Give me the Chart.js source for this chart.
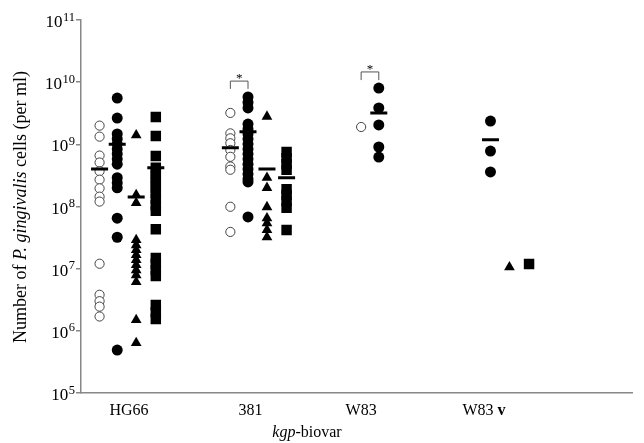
<!DOCTYPE html>
<html>
<head>
<meta charset="utf-8">
<script src="https://cdn.jsdelivr.net/npm/chart.js@4.4.1/dist/chart.umd.min.js"></script>
<style>
  html, body { margin: 0; padding: 0; background: #fff; }
  #wrap { width: 644px; height: 443px; position: relative; }
</style>
</head>
<body>
<div id="wrap"><canvas id="chart"></canvas></div>
<script>
// Categories (kgp-biovar) and where they sit on the linear x scale.
const categories = ["HG66", "381", "W83", "W83"];   // last one gets a bold "v"
const categorySuffix = ["", "", "", "v"];
const groupBase = [1, 2, 3, 3.854];                 // x of the open-circle column
const labelPos = [1.225, 2.155, 3.0, 3.94];         // x of the category label
const seriesOffset = [0, 0.135, 0.28, 0.43];        // open, filled, triangle, square

const yTickValues = [1e5, 1e6, 1e7, 1e8, 1e9, 1e10, 1e11];
const yTickExponents = ["5", "6", "7", "8", "9", "10", "11"];

// HG66
const hg66Open = [2.0e9, 1.33e9, 6.6e8, 5.1e8, 3.7e8, 2.7e8, 1.96e8, 1.44e8, 1.2e8, 1.2e7, 3.8e6, 3.0e6, 2.45e6, 1.7e6];
const hg66Filled = [5.56e9, 2.65e9, 1.47e9, 1.22e9, 1.01e9, 8.4e8, 7.0e8, 5.8e8, 4.8e8, 2.9e8, 2.4e8, 2.0e8, 6.5e7, 3.2e7, 4.9e5];
const hg66Tri = [1.4e9, 1.53e8, 1.14e8, 2.9e7, 2.4e7, 2.0e7, 1.66e7, 1.38e7, 1.15e7, 9.5e6, 7.9e6, 6.1e6, 1.5e6, 6.4e5];
const hg66Sq = [2.75e9, 1.36e9, 6.5e8, 4.2e8, 3.5e8, 2.9e8, 2.4e8, 2.0e8, 1.65e8, 1.32e8, 1.06e8, 8.5e7, 4.3e7, 1.49e7, 1.19e7, 9.5e6, 7.6e6, 2.6e6, 2.0e6, 1.55e6];

// 381
const s381Open = [3.2e9, 1.5e9, 1.25e9, 1.04e9, 8.1e8, 6.3e8, 4.4e8, 3.9e8, 9.9e7, 3.9e7];
const s381Filled = [5.77e9, 4.71e9, 3.85e9, 2.12e9, 1.77e9, 1.47e9, 1.22e9, 1.01e9, 8.4e8, 7.0e8, 5.8e8, 4.8e8, 4.0e8, 3.33e8, 2.77e8, 2.48e8, 6.8e7];
const s381Tri = [2.8e9, 2.9e8, 2.0e8, 9.8e7, 6.5e7, 5.4e7, 4.2e7, 3.2e7];
const s381Sq = [7.5e8, 6.0e8, 4.8e8, 3.9e8, 1.9e8, 1.53e8, 1.23e8, 9.5e7, 4.2e7];

// W83
const w83Open = [1.9e9];
const w83Filled = [8.05e9, 3.85e9, 2.05e9, 9.06e8, 6.25e8];

// W83v
const w83vFilled = [2.37e9, 7.8e8, 3.6e8];
const w83vTri = [1.06e7];
const w83vSq = [1.19e7];

// Group means (horizontal bars), one per category, null where there is none.
const meanOpen = [4.0e8, 8.8e8, null, null];
const meanFilled = [1.0e9, 1.6e9, 3.2e9, 1.18e9];
const meanTri = [1.42e8, 4.0e8, null, null];
const meanSq = [4.2e8, 2.9e8, null, null];

// Significance brackets (open vs filled) for 381 and W83.
const bracketGroup = [1, 2];
const bracketTop = [1.04e10, 1.46e10];
const bracketLeg = [7.8e9, 1.08e10];

const pts = (g, s, vals) => vals.map((v) => ({ x: groupBase[g] + seriesOffset[s], y: v }));
const meanPts = (s, vals) => vals
  .map((v, g) => (v == null ? null : { x: groupBase[g] + seriesOffset[s], y: v }))
  .filter(Boolean);

const openStyle = { pointStyle: "circle", pointRadius: 4.6, borderColor: "#444", backgroundColor: "#fff", borderWidth: 1 };
const filledStyle = { pointStyle: "circle", pointRadius: 5.5, borderColor: "#000", backgroundColor: "#000", borderWidth: 0 };
const triStyle = { pointStyle: "triangle", pointRadius: 6.2, borderColor: "#000", backgroundColor: "#000", borderWidth: 0 };
const sqStyle = { pointStyle: "rect", pointRadius: 7.4, borderColor: "#000", backgroundColor: "#000", borderWidth: 0 };
const barStyle = { pointStyle: "line", pointRadius: 8.5, borderColor: "#000", backgroundColor: "#000", borderWidth: 3 };

const SERIF = "'Liberation Serif', 'Times New Roman', serif";

// Draw a line of text made of runs in different fonts.
const drawRuns = (ctx, runs, x, y, align) => {
  let total = 0;
  runs.forEach((r) => { ctx.font = r.f; total += ctx.measureText(r.t).width; });
  let cx = align === "center" ? x - total / 2 : x;
  ctx.textAlign = "left";
  runs.forEach((r) => {
    ctx.font = r.f;
    ctx.fillText(r.t, cx, y);
    cx += ctx.measureText(r.t).width;
  });
};

const textPlugin = {
  id: "textPlugin",
  afterDraw(chart) {
    const { ctx } = chart;
    const xs = chart.scales.x;
    const ys = chart.scales.y;
    ctx.save();
    ctx.fillStyle = "#000";
    ctx.textBaseline = "alphabetic";

    // y tick labels: 10 with a superscript exponent
    yTickValues.forEach((v, i) => {
      const py = ys.getPixelForValue(v);
      ctx.font = `12.5px ${SERIF}`;
      const ew = ctx.measureText(yTickExponents[i]).width;
      ctx.textAlign = "right";
      ctx.fillText(yTickExponents[i], 75, py + 0.5);
      ctx.font = `17px ${SERIF}`;
      ctx.fillText("10", 75 - ew - 0.5, py + 7);
    });

    // category labels
    categories.forEach((c, i) => {
      const px = xs.getPixelForValue(labelPos[i]);
      const runs = [{ t: c, f: `16px ${SERIF}` }];
      if (categorySuffix[i]) runs.push({ t: " " + categorySuffix[i], f: `bold 16px ${SERIF}` });
      drawRuns(ctx, runs, px, 415, "center");
    });

    // x title
    drawRuns(ctx, [
      { t: "kgp", f: `italic 16px ${SERIF}` },
      { t: "-biovar", f: `16px ${SERIF}` },
    ], 307, 437, "center");

    // y title
    ctx.save();
    ctx.translate(21, 207);
    ctx.rotate(-Math.PI / 2);
    ctx.textBaseline = "middle";
    drawRuns(ctx, [
      { t: "Number of ", f: `18px ${SERIF}` },
      { t: "P. gingivalis", f: `italic 18px ${SERIF}` },
      { t: " cells (per ml)", f: `18px ${SERIF}` },
    ], 0, 0, "center");
    ctx.restore();

    // brackets with stars
    ctx.strokeStyle = "#555";
    ctx.lineWidth = 1;
    bracketGroup.forEach((g, i) => {
      const x1 = xs.getPixelForValue(groupBase[g] + seriesOffset[0]);
      const x2 = xs.getPixelForValue(groupBase[g] + seriesOffset[1]);
      const yt = ys.getPixelForValue(bracketTop[i]);
      const yl = ys.getPixelForValue(bracketLeg[i]);
      ctx.beginPath();
      ctx.moveTo(x1, yl);
      ctx.lineTo(x1, yt);
      ctx.lineTo(x2, yt);
      ctx.lineTo(x2, yl);
      ctx.stroke();
      ctx.font = `13px ${SERIF}`;
      ctx.textAlign = "center";
      ctx.fillText("*", (x1 + x2) / 2, yt + 1);
    });
    ctx.restore();
  },
};

new Chart(document.getElementById("chart"), {
  type: "scatter",
  plugins: [textPlugin],
  data: {
    datasets: [
      { label: "mean open", data: meanPts(0, meanOpen), ...barStyle },
      { label: "mean filled", data: meanPts(1, meanFilled), ...barStyle },
      { label: "mean triangle", data: meanPts(2, meanTri), ...barStyle },
      { label: "mean square", data: meanPts(3, meanSq), ...barStyle },
      { label: "HG66 open", data: pts(0, 0, hg66Open), ...openStyle },
      { label: "HG66 filled", data: pts(0, 1, hg66Filled), ...filledStyle },
      { label: "HG66 triangle", data: pts(0, 2, hg66Tri), ...triStyle },
      { label: "HG66 square", data: pts(0, 3, hg66Sq), ...sqStyle },
      { label: "381 open", data: pts(1, 0, s381Open), ...openStyle },
      { label: "381 filled", data: pts(1, 1, s381Filled), ...filledStyle },
      { label: "381 triangle", data: pts(1, 2, s381Tri), ...triStyle },
      { label: "381 square", data: pts(1, 3, s381Sq), ...sqStyle },
      { label: "W83 open", data: pts(2, 0, w83Open), ...openStyle },
      { label: "W83 filled", data: pts(2, 1, w83Filled), ...filledStyle },
      { label: "W83v filled", data: pts(3, 1, w83vFilled), ...filledStyle },
      { label: "W83v triangle", data: pts(3, 2, w83vTri), ...triStyle },
      { label: "W83v square", data: pts(3, 3, w83vSq), ...sqStyle },
    ],
  },
  options: {
    responsive: true,
    maintainAspectRatio: false,
    animation: false,
    layout: { padding: { top: 20, right: 0, bottom: 0, left: 0 } },
    plugins: { legend: { display: false }, tooltip: { enabled: false } },
    scales: {
      x: {
        type: "linear",
        min: 0.858,
        max: 5.075,
        grid: { display: true, drawOnChartArea: false, drawTicks: false },
        border: { display: true, color: "#888", width: 1.5 },
        ticks: { display: false },
        afterFit: (s) => { s.height = 50; },
      },
      y: {
        type: "logarithmic",
        min: 1e5,
        max: 1e11,
        afterBuildTicks: (s) => { s.ticks = yTickValues.map((v) => ({ value: v })); },
        grid: { display: true, drawOnChartArea: false, drawTicks: true, tickLength: 5, color: "#888", lineWidth: 1.5 },
        border: { display: true, color: "#888", width: 1.5 },
        ticks: { display: false },
        afterFit: (s) => { s.width = 81; },
      },
    },
  },
});
</script>
</body>
</html>
